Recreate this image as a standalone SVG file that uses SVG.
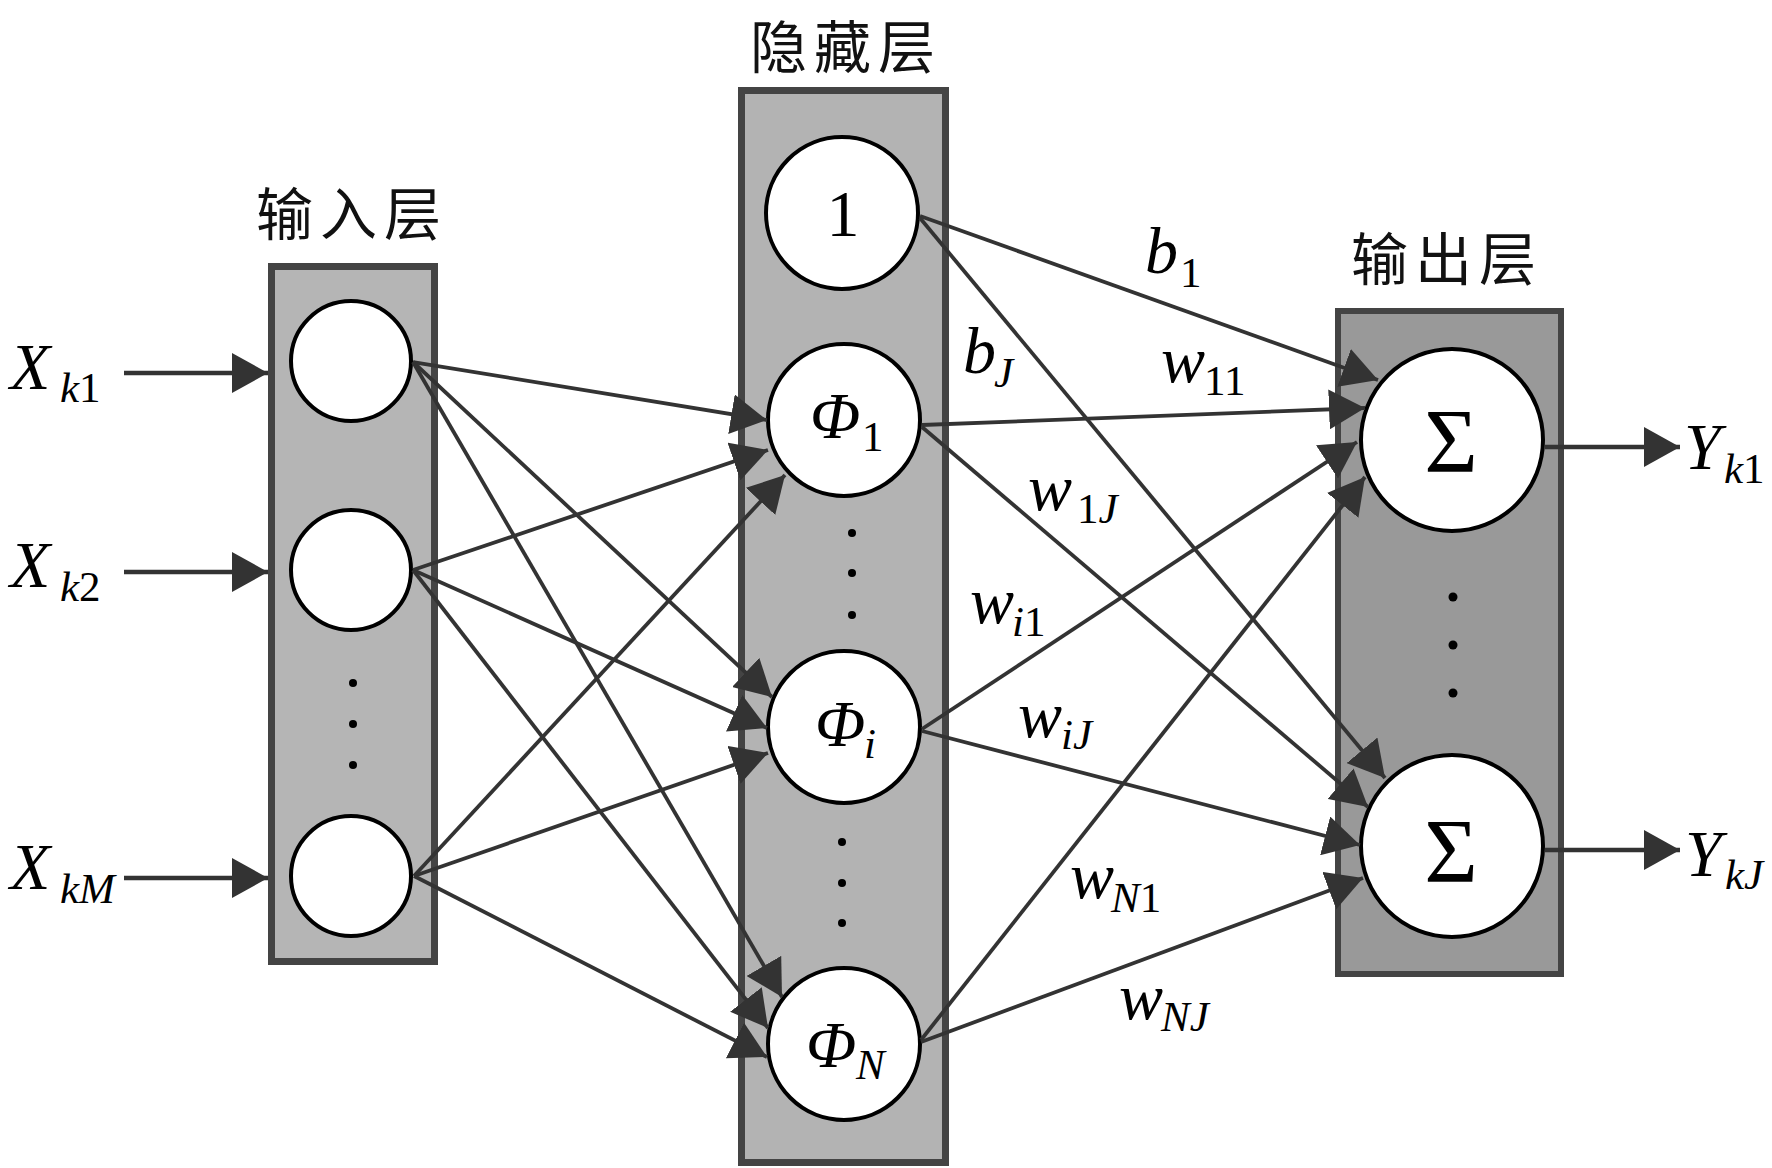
<svg xmlns="http://www.w3.org/2000/svg" width="1772" height="1168" viewBox="0 0 1772 1168">
<defs>
<style>
.box{stroke:#444;stroke-width:7}
.node{fill:#fff;stroke:#000;stroke-width:4}
.edge{stroke:#333;stroke-width:3.8;fill:none}
.io{stroke:#333;stroke-width:4.5;fill:none}
.dot{fill:#000}
.title{font-family:"Noto Sans CJK SC","Noto Sans",sans-serif;font-size:57px;letter-spacing:7px;fill:#111}
.v{font-family:"Liberation Serif","Times New Roman",serif;font-style:italic;font-size:66px;fill:#000}
.s{font-family:"Liberation Serif","Times New Roman",serif;font-size:43px;fill:#000}
.si{font-style:italic}
.n{font-family:"Liberation Serif","Times New Roman",serif;font-size:66px;fill:#000}
</style>
<marker id="ah" viewBox="0 0 36 40" refX="36" refY="20" markerWidth="36" markerHeight="40" markerUnits="userSpaceOnUse" orient="auto">
<path d="M0,0 L36,20 L0,40 z" fill="#333"/>
</marker>
</defs>
<rect width="1772" height="1168" fill="#fff"/>

<g id="layers">
<rect id="input-layer" class="box" x="271.5" y="266.5" width="163" height="695" fill="#b5b5b5"/>
<rect id="hidden-layer" class="box" x="741.5" y="90.5" width="204" height="1072" fill="#b3b3b3"/>
<rect id="output-layer" class="box" x="1338" y="311" width="223" height="663" fill="#999" style="stroke-width:6"/>
<text class="title" x="256" y="235">输入层</text>
<text class="title" x="750" y="68">隐藏层</text>
<text class="title" x="1351" y="280">输出层</text>
<circle class="dot" cx="353" cy="683" r="4"/>
<circle class="dot" cx="353" cy="724" r="4"/>
<circle class="dot" cx="353" cy="765" r="4"/>
<circle class="dot" cx="852" cy="533" r="4"/>
<circle class="dot" cx="852" cy="573" r="4"/>
<circle class="dot" cx="852" cy="615" r="4"/>
<circle class="dot" cx="842" cy="842" r="4"/>
<circle class="dot" cx="842" cy="883" r="4"/>
<circle class="dot" cx="842" cy="923" r="4"/>
<circle class="dot" cx="1453" cy="597" r="4.5"/>
<circle class="dot" cx="1453" cy="645" r="4.5"/>
<circle class="dot" cx="1453" cy="693" r="4.5"/>
</g>

<g id="in1"><circle class="node" cx="351" cy="361" r="60"/></g>
<g id="in2"><circle class="node" cx="351" cy="570" r="60"/></g>
<g id="inM"><circle class="node" cx="351" cy="876" r="60"/></g>

<g id="bias"><circle class="node" cx="842" cy="213" r="76"/><text class="n" x="843" y="236" text-anchor="middle">1</text></g>
<g id="phi1"><circle class="node" cx="844" cy="420" r="76"/><text class="v" x="810" y="438">Φ</text><text class="s" x="862" y="451">1</text></g>
<g id="phii"><circle class="node" cx="844" cy="727" r="76"/><text class="v" x="815" y="746">Φ</text><text class="s si" x="864" y="758">i</text></g>
<g id="phiN"><circle class="node" cx="844" cy="1044" r="76"/><text class="v" x="806" y="1067">Φ</text><text class="s si" x="856" y="1079">N</text></g>

<g id="sum1"><circle class="node" cx="1452" cy="440" r="91"/><text class="n" x="1451" y="472" text-anchor="middle" style="font-size:92px">Σ</text></g>
<g id="sumJ"><circle class="node" cx="1452" cy="846" r="91"/><text class="n" x="1451" y="882" text-anchor="middle" style="font-size:92px">Σ</text></g>

<g id="connectors">
<line class="io" x1="124" y1="373" x2="268" y2="373" marker-end="url(#ah)"/>
<line class="io" x1="124" y1="572" x2="268" y2="572" marker-end="url(#ah)"/>
<line class="io" x1="124" y1="878" x2="268" y2="878" marker-end="url(#ah)"/>
<line class="edge" x1="413" y1="362" x2="767" y2="420" marker-end="url(#ah)"/>
<line class="edge" x1="413" y1="362" x2="772" y2="697" marker-end="url(#ah)"/>
<line class="edge" x1="413" y1="362" x2="782" y2="997" marker-end="url(#ah)"/>
<line class="edge" x1="413" y1="570" x2="768" y2="450" marker-end="url(#ah)"/>
<line class="edge" x1="413" y1="570" x2="767" y2="728" marker-end="url(#ah)"/>
<line class="edge" x1="413" y1="570" x2="768" y2="1028" marker-end="url(#ah)"/>
<line class="edge" x1="414" y1="876" x2="785" y2="475" marker-end="url(#ah)"/>
<line class="edge" x1="414" y1="876" x2="768" y2="753" marker-end="url(#ah)"/>
<line class="edge" x1="414" y1="876" x2="767" y2="1057" marker-end="url(#ah)"/>
<line class="edge" x1="920" y1="216" x2="1378" y2="380" marker-end="url(#ah)"/>
<line class="edge" x1="920" y1="218" x2="1385" y2="778" marker-end="url(#ah)"/>
<line class="edge" x1="922" y1="425" x2="1365" y2="408" marker-end="url(#ah)"/>
<line class="edge" x1="922" y1="427" x2="1368" y2="807" marker-end="url(#ah)"/>
<line class="edge" x1="922" y1="729" x2="1357" y2="442" marker-end="url(#ah)"/>
<line class="edge" x1="922" y1="731" x2="1360" y2="845" marker-end="url(#ah)"/>
<line class="edge" x1="921" y1="1040" x2="1365" y2="477" marker-end="url(#ah)"/>
<line class="edge" x1="921" y1="1042" x2="1363" y2="878" marker-end="url(#ah)"/>
<line class="io" x1="1545" y1="447" x2="1680" y2="447" marker-end="url(#ah)"/>
<line class="io" x1="1545" y1="850" x2="1680" y2="850" marker-end="url(#ah)"/>
</g>

<g id="labels">
<text class="v" x="10" y="389">X</text><text class="s si" x="60" y="402">k<tspan font-style="normal">1</tspan></text>
<text class="v" x="10" y="587">X</text><text class="s si" x="60" y="601">k<tspan font-style="normal">2</tspan></text>
<text class="v" x="10" y="889">X</text><text class="s si" x="60" y="903">kM</text>
<text class="v" x="1684" y="469">Y</text><text class="s si" x="1724" y="483">k<tspan font-style="normal">1</tspan></text>
<text class="v" x="1685" y="876">Y</text><text class="s si" x="1725" y="889">kJ</text>
<text class="v" x="1145" y="273">b</text><text class="s" x="1180" y="287">1</text>
<text class="v" x="963" y="373">b</text><text class="s si" x="994" y="387">J</text>
<text class="v" x="1161" y="382">w</text><text class="s" x="1204" y="395">11</text>
<text class="v" x="1028" y="510">w</text><text class="s" x="1077" y="523">1<tspan font-style="italic">J</tspan></text>
<text class="v" x="970" y="623">w</text><text class="s si" x="1012" y="636">i<tspan font-style="normal">1</tspan></text>
<text class="v" x="1018" y="737">w</text><text class="s si" x="1061" y="749">iJ</text>
<text class="v" x="1070" y="898">w</text><text class="s si" x="1111" y="912">N<tspan font-style="normal">1</tspan></text>
<text class="v" x="1119" y="1019">w</text><text class="s si" x="1161" y="1031">NJ</text>
</g>
</svg>
